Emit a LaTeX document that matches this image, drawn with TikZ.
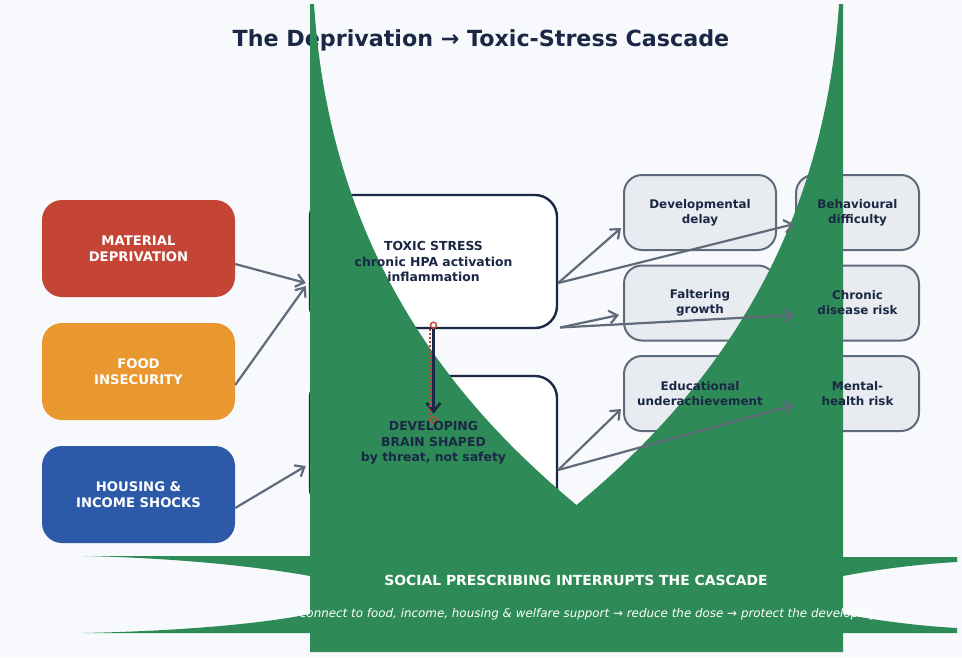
\documentclass[tikz,border=0pt]{standalone}
\usepackage{fontspec}
\setmainfont{DejaVu Sans}
\usetikzlibrary{arrows.meta}
\definecolor{bgc}{HTML}{F7F9FC}
\definecolor{navy}{HTML}{1B2845}
\definecolor{redc}{HTML}{C44536}
\definecolor{orangec}{HTML}{E8982E}
\definecolor{bluec}{HTML}{2C5AA8}
\definecolor{greenc}{HTML}{2E8B57}
\definecolor{grayc}{HTML}{5F6B7A}
\definecolor{grayfill}{HTML}{E8ECF1}
\tikzset{
  srcbox/.style={rectangle, rounded corners=20pt, minimum width=193pt, minimum height=97pt, inner sep=0pt},
  midbox/.style={rectangle, rounded corners=22pt, draw=navy, line width=2.4pt, fill=white, minimum width=247pt, minimum height=133pt, inner sep=0pt},
  outbox/.style={rectangle, rounded corners=18pt, draw=grayc, line width=2pt, fill=grayfill, minimum height=75pt, inner sep=0pt},
  srctext/.style={text=white, font=\bfseries\fontsize{13.2}{16}\selectfont, align=center},
  midtext/.style={text=navy, font=\bfseries\fontsize{12.4}{15.5}\selectfont, align=center},
  outtext/.style={text=navy, font=\bfseries\fontsize{11.9}{15}\selectfont, align=center},
  conn/.style={draw=grayc, line width=2.2pt, -{Straight Barb[length=8pt,width=13pt,line width=2.2pt]}},
  redring/.style={circle, draw=redc, line width=1.4pt, minimum size=6pt, inner sep=0pt},
}
\begin{document}
\begin{tikzpicture}[x=1pt,y=-1pt]
\fill[bgc] (0,0) rectangle (962,657);
\useasboundingbox (0,0) rectangle (962,657);
\node[font=\bfseries\fontsize{22.2}{26}\selectfont, text=navy] (title) at (481,40.5) {The Deprivation → Toxic-Stress Cascade};
% box shapes
\node[srcbox, fill=redc] (mat) at (138.5,248.5) {};
\node[srcbox, fill=orangec] (food) at (138.5,371.5) {};
\node[srcbox, fill=bluec] (house) at (138.5,494.5) {};
\node[midbox] (tox) at (433.5,261.5) {};
\node[midbox, minimum height=134pt] (brain) at (433.5,443) {};
\node[outbox, minimum width=152pt] (dev) at (700,212.5) {};
\node[outbox, minimum width=152pt] (fal) at (700,303) {};
\node[outbox, minimum width=152pt] (edu) at (700,393.5) {};
\node[outbox, minimum width=123pt] (beh) at (857.5,212.5) {};
\node[outbox, minimum width=123pt] (chr) at (857.5,303) {};
\node[outbox, minimum width=123pt] (men) at (857.5,393.5) {};
% green banner shape
\fill[greenc] (310,4) -- (314,4) .. controls (330,250) and (450,400) .. (576.5,505)
  .. controls (703,400) and (823,250) .. (839,4) -- (843,4) -- (843,557) -- (957,557) -- (957,562)
  .. controls (920,564) and (880,569) .. (843,576) -- (843,614)
  .. controls (880,621) and (920,626) .. (957,628) -- (957,633) -- (843,633) -- (843,652)
  -- (310,652) -- (310,633) -- (83,633) .. controls (180,631) and (260,624) .. (310,614)
  -- (310,576) .. controls (260,567) and (180,558) .. (83,556) -- (310,556) -- cycle;
% connectors
\draw[conn] ([yshift=-15.5pt]mat.east) -- ([xshift=-3pt,yshift=-21.5pt]tox.west);
\draw[conn] ([yshift=-13.5pt]food.east) -- ([xshift=-3pt,yshift=-24.5pt]tox.west);
\draw[conn] ([yshift=-13.5pt]house.east) -- ([xshift=-3pt,yshift=-23pt]brain.west);
\draw[conn] ([yshift=-21.5pt]tox.east) -- ([xshift=-2pt,yshift=-15.5pt]dev.west);
\draw[conn] ([yshift=-21.5pt]tox.east) -- ([xshift=-1pt,yshift=-11.5pt]beh.west);
\draw[conn] ([xshift=2pt,yshift=-66pt]tox.east) -- ([xshift=-4pt,yshift=-12pt]fal.west);
\draw[conn] ([xshift=2pt,yshift=-66pt]tox.east) -- ([xshift=-1pt,yshift=-12pt]chr.west);
\draw[conn] ([yshift=-27pt]brain.east) -- ([xshift=-2pt,yshift=-15.5pt]edu.west);
\draw[conn] ([yshift=-27pt]brain.east) -- ([xshift=-1pt,yshift=-11.5pt]men.west);
\draw[navy, line width=2.6pt, -{Straight Barb[length=9pt,width=14pt,line width=2.6pt]}] (tox.south) -- ([yshift=-39pt]brain.north);
\node[redring] (rtop) at ([yshift=4pt]tox.south) {};
\node[redring] (rbot) at ([yshift=-45pt]brain.north) {};
\draw[redc, line width=1.8pt, dash pattern=on 1.6pt off 2.4pt] ([xshift=-3.5pt]rtop.south) -- ([xshift=-3.5pt]rbot.north);
% texts
\node[srctext] at (mat.center) {MATERIAL\\DEPRIVATION};
\node[srctext] at (food.center) {FOOD\\INSECURITY};
\node[srctext] at (house.center) {HOUSING \&\\INCOME SHOCKS};
\node[midtext] at (tox.center) {TOXIC STRESS\\chronic HPA activation\\inflammation};
\node[midtext] at (brain.center) {DEVELOPING\\BRAIN SHAPED\\by threat, not safety};
\node[outtext] at (dev.center) {Developmental\\delay};
\node[outtext] at (fal.center) {Faltering\\growth};
\node[outtext] at (edu.center) {Educational\\underachievement};
\node[outtext] at (beh.center) {Behavioural\\difficulty};
\node[outtext] at (chr.center) {Chronic\\disease risk};
\node[outtext] at (men.center) {Mental-\\health risk};
\node[text=white, font=\bfseries\fontsize{13.9}{16}\selectfont] (bt) at (576,580.5) {SOCIAL PRESCRIBING INTERRUPTS THE CASCADE};
\node[text=white, font=\itshape\fontsize{11.9}{14}\selectfont, anchor=west, inner sep=0pt] (bs) at (286,614) {→ connect to food, income, housing \& welfare support → reduce the dose → protect the developing};
\end{tikzpicture}
\end{document}
